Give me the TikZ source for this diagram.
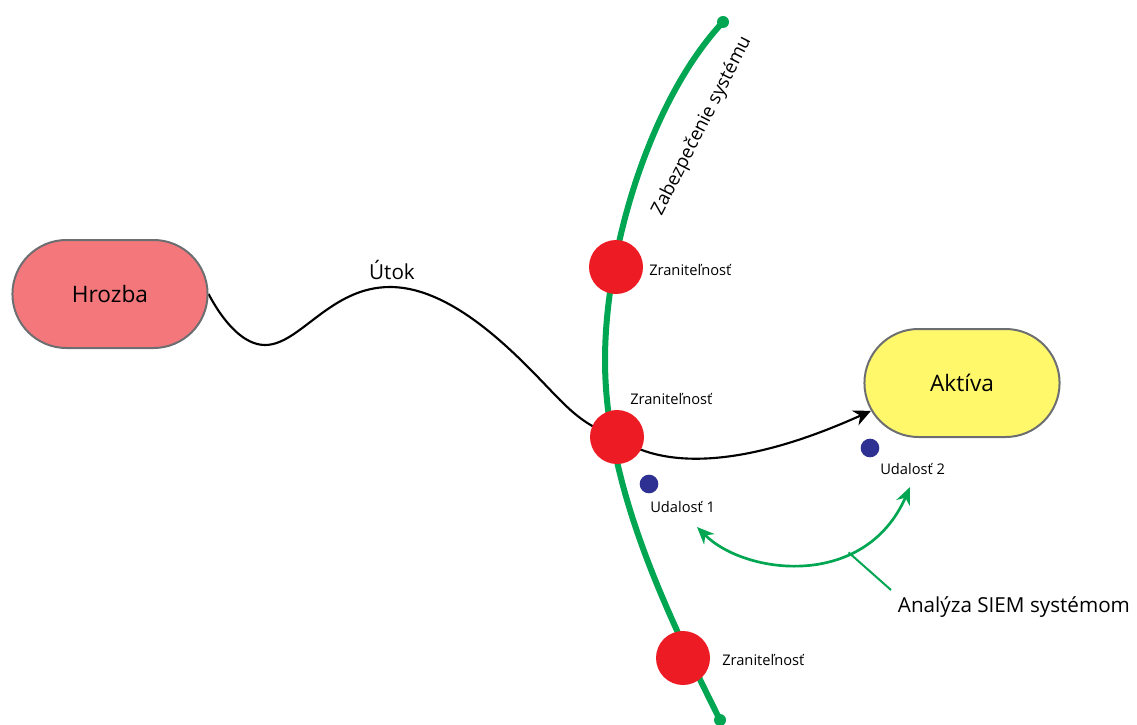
\documentclass[tikz,border=0pt]{standalone}
\usepackage{fontspec}
\setmainfont{Open Sans}
\usetikzlibrary{shapes.misc,arrows.meta,backgrounds}
\definecolor{hrozbared}{HTML}{F4777B}
\definecolor{aktivayellow}{HTML}{FFF86B}
\definecolor{pillgray}{HTML}{6D6E71}
\definecolor{vulnred}{HTML}{ED1C24}
\definecolor{secgreen}{HTML}{00A651}
\definecolor{eventblue}{HTML}{2E3192}

\begin{document}
\begin{tikzpicture}[x=0.75pt, y=-0.75pt,
    pill/.style={rounded rectangle, draw=pillgray, line width=1.5pt,
        minimum width=153pt, minimum height=81pt,
        font=\fontsize{17}{20}\selectfont},
    vuln/.style={circle, fill=vulnred, minimum size=40.5pt, inner sep=0pt},
    event/.style={circle, fill=eventblue, minimum size=14pt, inner sep=0pt},
    lbl/.style={anchor=west, inner sep=0pt, font=\fontsize{11}{13}\selectfont},
    attack/.style={black, line width=1.6pt},
    secline/.style={secgreen, line width=4.5pt},
    siemline/.style={secgreen, line width=2pt},
    greentip/.tip={Stealth[length=13pt, width=11pt]}
]
    \useasboundingbox (0, 0) rectangle (1137, 724);

    % main blocks
    \node[pill, fill=hrozbared] (hrozba) at (110, 294) {Hrozba};
    \node[pill, fill=aktivayellow] (aktiva) at (962, 383) {Aktíva};

    % vulnerabilities on the security line
    \node[vuln] (v1) at (616, 267) {};
    \node[vuln] (v2) at (617, 437) {};
    \node[vuln] (v3) at (683, 658) {};
    \node[lbl] (v1txt) at (649, 270) {Zraniteľnosť};
    \node[lbl] (v2txt) at (630, 399) {Zraniteľnosť};
    \node[lbl] (v3txt) at (722, 660) {Zraniteľnosť};

    % events
    \node[event] (e1) at (649, 484) {};
    \node[event] (e2) at (870, 448) {};
    \node[lbl] (e1txt) at (650, 507) {Udalosť 1};
    \node[lbl] (e2txt) at (880, 469) {Udalosť 2};

    \node[font=\fontsize{15.5}{18}\selectfont] (utok) at (392, 270) {Útok};
    \node[rotate=63, font=\fontsize{14}{17}\selectfont] (zab) at (702, 126) {Zabezpečenie systému};
    \node[anchor=north west, inner sep=5pt, font=\fontsize{15.5}{18}\selectfont] (siem) at (891, 590) {Analýza SIEM systémom};

    \coordinate (arcstart) at (697, 527);
    \coordinate (arcend) at (910, 487);

    \begin{scope}[on background layer]
        \draw[secline] (723, 22) .. controls (650, 100) and (605, 250) .. (605, 360)
            .. controls (605, 480) and (660, 600) .. (720, 720);
        \fill[secgreen] (723, 22) circle (4.5pt);
        \fill[secgreen] (720, 720) circle (4.5pt);
        \draw[attack] (hrozba.east) .. controls (225, 325) and (245, 345) .. (265, 345)
            .. controls (300, 345) and (330, 287) .. (390, 287)
            .. controls (460, 287) and (530, 370) .. (560, 400)
            .. controls (575, 415) and (590, 428) .. (v2.center);
        \draw[attack, -{Stealth[length=13pt, width=12pt]}] (v2.center)
            .. controls (660, 468) and (740, 470) .. (aktiva.197);
    \end{scope}

    % SIEM analysis
    \draw[siemline, greentip-greentip] (arcstart) .. controls (745, 575) and (865, 590) .. (arcend)
        coordinate[pos=0.68] (arcmid);
    \draw[secgreen, line width=1.5pt] (arcmid) -- (siem.north west);
\end{tikzpicture}
\end{document}
